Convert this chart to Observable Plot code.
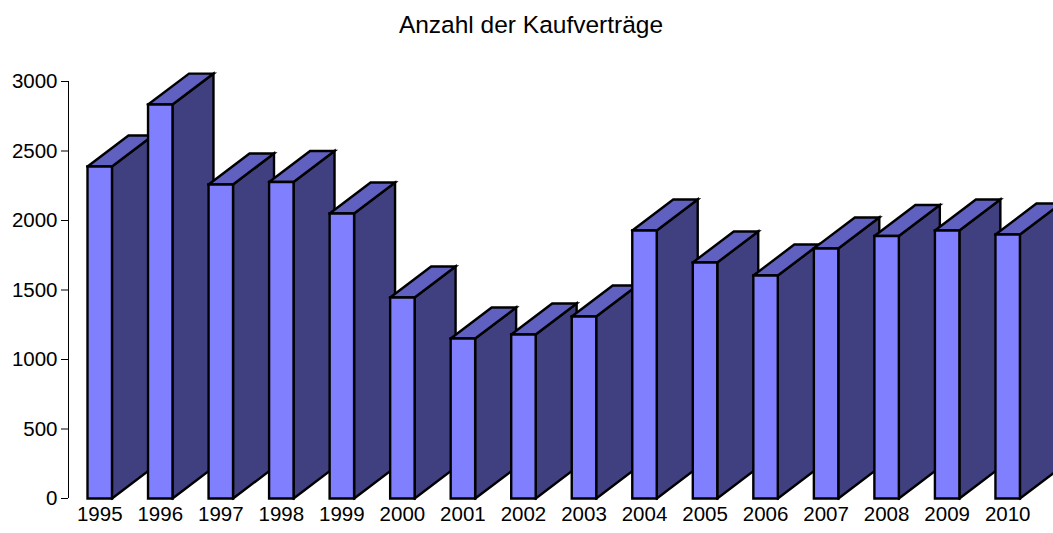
<!DOCTYPE html>
<html>
<head>
<meta charset="utf-8">
<script src="https://cdn.jsdelivr.net/npm/d3@7"></script>
<script src="https://cdn.jsdelivr.net/npm/@observablehq/plot@0.6"></script>
<style>
html,body{margin:0;padding:0;background:#fff;overflow:hidden;}
#title{height:60px;box-sizing:border-box;padding-top:9px;text-align:center;font:24.5px/32px "Liberation Sans",Arial,sans-serif;color:#000;width:1062px;}
svg{display:block;}
</style>
</head>
<body>
<div id="title">Anzahl der Kaufverträge</div>
<div id="chart"></div>
<script>
const years = [1995,1996,1997,1998,1999,2000,2001,2002,2003,2004,2005,2006,2007,2008,2009,2010];
const counts = [2388,2834,2259,2277,2050,1446,1151,1180,1309,1928,1698,1604,1799,1888,1928,1899];
const yTicks = [0,500,1000,1500,2000,2500,3000];
const frontColor = "#8080ff", sideColor = "#404080", topColor = "#6060c0";
const halfWidth = 0.202, depthX = 0.677, depthY = 223;

const faces = years.flatMap((year, i) => {
  const v = counts[i], l = year - halfWidth, r = year + halfWidth;
  const face = (name, fill, pts) => pts.map(([x, y]) => ({id: `${year}-${name}`, fill, x, y}));
  return [
    ...face("side", sideColor, [[r,0],[r+depthX,depthY],[r+depthX,v+depthY],[r,v],[r,0]]),
    ...face("top", topColor, [[l,v],[r,v],[r+depthX,v+depthY],[l+depthX,v+depthY],[l,v]]),
    ...face("front", frontColor, [[l,0],[r,0],[r,v],[l,v],[l,0]])
  ];
});

const plot = Plot.plot({
  width: 1053,
  height: 473,
  marginLeft: 68,
  marginRight: 0,
  marginTop: 21,
  marginBottom: 35,
  style: {fontFamily: '"Liberation Sans",Arial,sans-serif', background: "#fff", color: "#000"},
  x: {type: "linear", domain: [1994.484, 2010.757]},
  y: {domain: [0, 3000]},
  marks: [
    Plot.line(faces, {x: "x", y: "y", z: "id", fill: "fill", stroke: "#000", strokeWidth: 2.4, strokeLinejoin: "miter", strokeMiterlimit: 4, strokeLinecap: "square"}),
    Plot.ruleX([1994.484], {y1: 0, y2: 3000, stroke: "#000", strokeWidth: 1}),
    Plot.axisY({ticks: yTicks, tickFormat: "d", tickSize: 7, tickPadding: 4, fontSize: 20.5, label: null, stroke: "#000", strokeOpacity: 1}),
    Plot.axisX({ticks: years, tickFormat: "d", tickSize: 0, tickPadding: 8, fontSize: 20.5, label: null})
  ]
});
document.getElementById("chart").appendChild(plot);
</script>
</body>
</html>
